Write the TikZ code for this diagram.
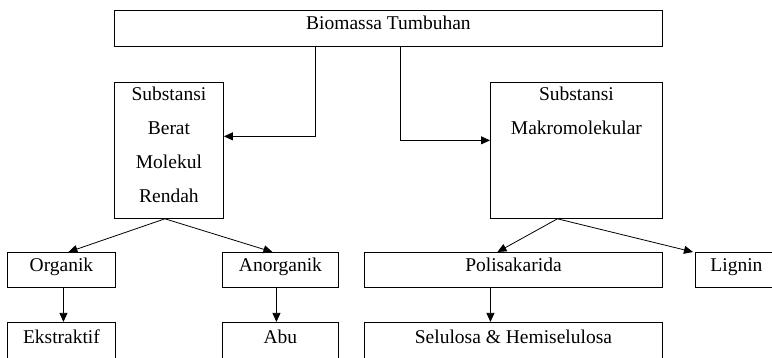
\documentclass[tikz,border=0pt]{standalone}
\usepackage{fontspec}
\setmainfont{Liberation Serif}
\usetikzlibrary{arrows.meta,positioning}

\begin{document}
\begin{tikzpicture}[
    x=1pt,y=1pt,
    font=\fontsize{19.5}{34}\selectfont,
    box/.style={draw,line width=0.9pt,inner sep=0pt,minimum height=35pt,text height=19pt,text depth=16pt},
    lowbox/.style={box,minimum height=38pt,text height=21pt,text depth=17pt},
    tall/.style={draw,line width=0.9pt,inner sep=0pt},
    arrow/.style={-{Triangle[length=9pt,width=8pt]},line width=0.8pt}
  ]
    \useasboundingbox (0,0) rectangle (772,357);
    \node[box,minimum width=548pt,minimum height=36pt,text depth=17pt,anchor=north west] (biomassa) at (114,347) {Biomassa Tumbuhan};
    \node[tall,below=35pt of biomassa.south west,anchor=north west] (bmr) {\parbox[c][136pt][t]{109pt}{\centering\rule{0pt}{18pt}Substansi\\Berat\\Molekul\\Rendah}};
    \node[tall,below=35pt of biomassa.south east,anchor=north east] (makro) {\parbox[c][136pt][t]{172pt}{\centering\rule{0pt}{18pt}Substansi\\Makromolekular}};
    % level 2
    \node[box,minimum width=108pt,anchor=north west] (organik) at (7,105) {Organik};
    \node[box,minimum width=116pt,anchor=north west] (anorganik) at (222,105) {Anorganik};
    \node[box,minimum width=298pt,anchor=north west] (polisakarida) at (364,105) {Polisakarida};
    \node[box,minimum width=82pt,anchor=north west] (lignin) at (695,105) {Lignin};
    % level 3
    \node[lowbox,minimum width=108pt,below=34pt of organik] (ekstraktif) {Ekstraktif};
    \node[lowbox,minimum width=116pt,below=34pt of anorganik] (abu) {Abu};
    \node[lowbox,minimum width=298pt,below=34pt of polisakarida] (selulosa) {Selulosa \& Hemiselulosa};

    \draw[arrow] ([xshift=-73pt]biomassa.south) |- ([yshift=14pt]bmr.east);
    \draw[arrow] ([xshift=12pt]biomassa.south) |- ([yshift=10pt]makro.west);
    \draw[arrow] ([xshift=-4pt]bmr.south) -- ([xshift=7pt]organik.north);
    \draw[arrow] ([xshift=-4pt]bmr.south) -- ([xshift=-8pt]anorganik.north);
    \draw[arrow] ([xshift=-19pt]makro.south) -- ([xshift=-16pt]polisakarida.north);
    \draw[arrow] ([xshift=-19pt]makro.south) -- ([xshift=-2pt]lignin.north west);
    \draw[arrow] ([xshift=2pt]organik.south) -- ([xshift=2pt]ekstraktif.north);
    \draw[arrow] ([xshift=-4pt]anorganik.south) -- ([xshift=-4pt]abu.north);
    \draw[arrow] ([xshift=-23pt]polisakarida.south) -- ([xshift=-23pt]selulosa.north);
  \end{tikzpicture}
\end{document}
